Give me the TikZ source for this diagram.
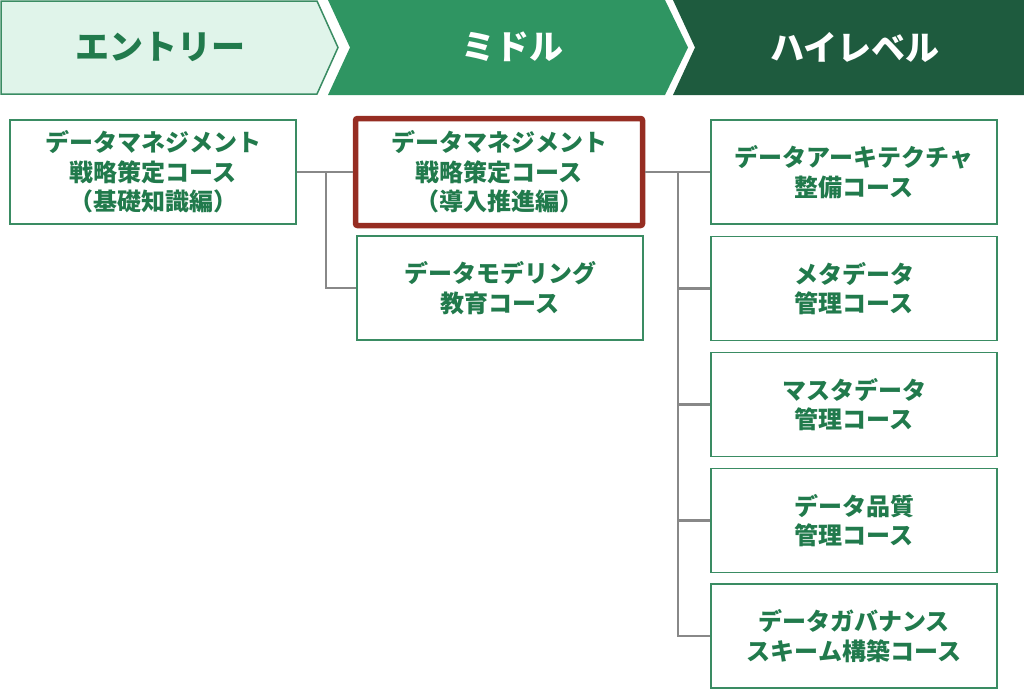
\documentclass[tikz,border=0pt]{standalone}
\usepackage{fontspec}
\setmainfont{Noto Sans CJK JP}
\definecolor{entryfill}{HTML}{E0F4EA}
\definecolor{entrydraw}{HTML}{3A8C63}
\definecolor{midfill}{HTML}{2F9562}
\definecolor{highfill}{HTML}{1E5B3E}
\definecolor{txtgreen}{HTML}{217A4C}
\definecolor{boxdraw}{HTML}{3A8C63}
\definecolor{redbox}{HTML}{962D22}
\definecolor{linegray}{HTML}{888888}
\tikzset{
  course/.style={draw=boxdraw, line width=1.5pt, fill=white, minimum width=286pt, minimum height=104pt,
    inner sep=0pt, align=center, text=txtgreen, font=\fontsize{24}{29.5}\selectfont\bfseries},
  hilite/.style={draw=redbox, line width=5.5pt, rounded corners=2pt, fill=white, minimum width=287pt, minimum height=107pt,
    inner sep=0pt, align=center, text=txtgreen, font=\fontsize{24}{29.5}\selectfont\bfseries},
  headtxt/.style={font=\fontsize{34}{36}\selectfont\bfseries, inner sep=0pt},
  conn/.style={draw=linegray, line width=2.5pt},
}
\begin{document}
\begin{tikzpicture}[x=1pt,y=-1pt]
\useasboundingbox (0,0) rectangle (1024,689);
% header chevrons
\fill[highfill] (673,0) -- (1024,0) -- (1024,95) -- (673,95) -- (695,47.5) -- cycle;
\fill[midfill] (328,0) -- (665,0) -- (688,47.5) -- (665,95) -- (328,95) -- (350,47.5) -- cycle;
\filldraw[fill=entryfill, draw=entrydraw, line width=1.5pt] (1,1) -- (317,1) -- (338,47.5) -- (317,94) -- (1,94) -- cycle;
\node[headtxt, text=txtgreen] (hE) at (160,47) {エントリー};
\node[headtxt, text=white] (hM) at (512,47) {ミドル};
\node[headtxt, text=white] (hH) at (855,47) {ハイレベル};
% course boxes
\node[course] (e1) at (153,172) {データマネジメント\\戦略策定コース\\（基礎知識編）};
\node[hilite] (m1) at (499,172) {データマネジメント\\戦略策定コース\\（導入推進編）};
\node[course] (m2) at (500,288) {データモデリング\\教育コース};
\node[course] (h1) at (854,172) {データアーキテクチャ\\整備コース};
\node[course] (h2) at (854,288.5) {メタデータ\\管理コース};
\node[course] (h3) at (854,404.5) {マスタデータ\\管理コース};
\node[course] (h4) at (854,520.5) {データ品質\\管理コース};
\node[course] (h5) at (854,636) {データガバナンス\\スキーム構築コース};
% connectors
\coordinate (jL) at (326,172);
\coordinate (jR) at (678,172);
\draw[conn] (e1.east) -- (m1.west);
\draw[conn] (jL) |- (m2.west);
\draw[conn] (m1.east) -- (h1.west);
\draw[conn] (jR) |- (h2.west);
\draw[conn] (jR) |- (h3.west);
\draw[conn] (jR) |- (h4.west);
\draw[conn] (jR) |- (h5.west);
\end{tikzpicture}
\end{document}
